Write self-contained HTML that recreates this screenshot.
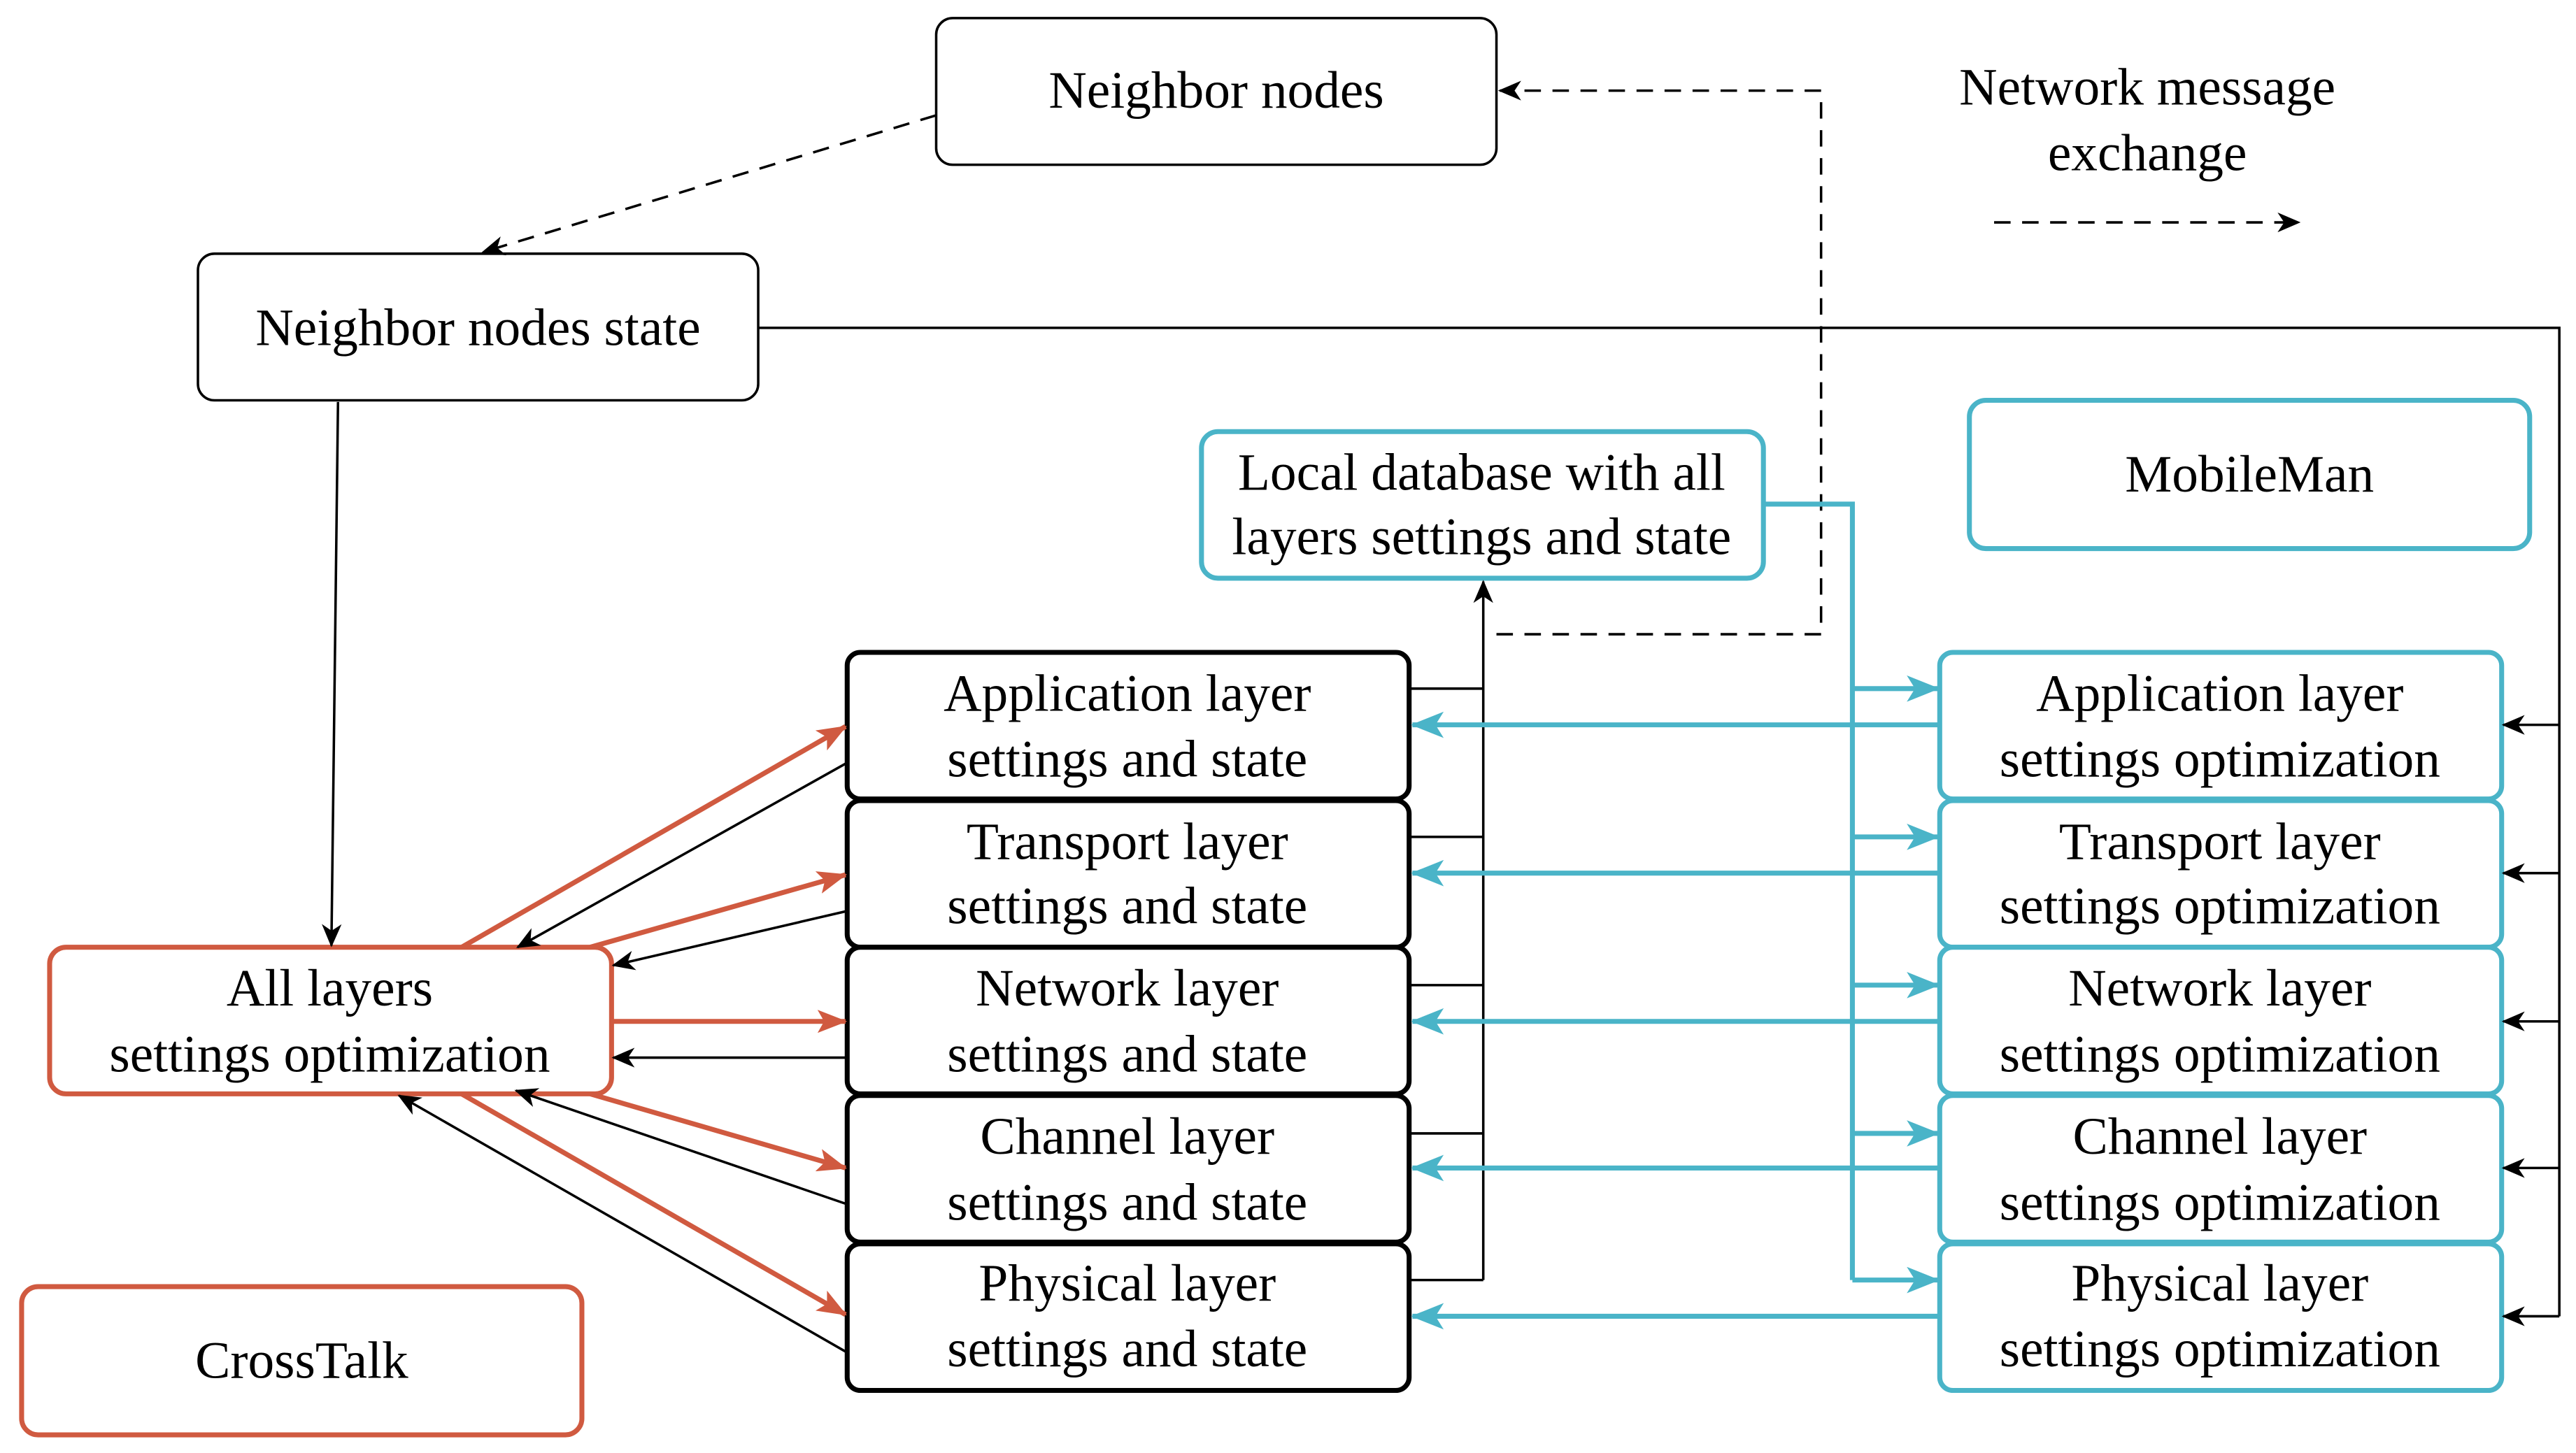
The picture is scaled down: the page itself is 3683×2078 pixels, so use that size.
<!DOCTYPE html>
<html><head><meta charset="utf-8"><style>html,body{margin:0;padding:0;background:#fff}svg{display:block}</style></head>
<body>
<svg width="3683" height="2078" viewBox="0 0 1563 882" xmlns="http://www.w3.org/2000/svg" font-family="Liberation Serif, serif" font-size="32" text-anchor="middle">
<defs>
<marker id="ak" markerWidth="14" markerHeight="12" refX="13" refY="6" orient="auto" markerUnits="userSpaceOnUse"><path d="M0,0 L14,6 L0,12 L4,6 z" fill="#000"/></marker>
<marker id="ac" markerWidth="20" markerHeight="16" refX="19" refY="8" orient="auto" markerUnits="userSpaceOnUse"><path d="M0,0 L20,8 L0,16 L5,8 z" fill="#4ab4c8"/></marker>
<marker id="ao" markerWidth="18" markerHeight="14" refX="17" refY="7" orient="auto" markerUnits="userSpaceOnUse"><path d="M0,0 L18,7 L0,14 L4,7 z" fill="#d05a40"/></marker>
</defs>
<g fill="#fff">
<rect x="568" y="11" width="340" height="89" rx="10" stroke="#000" stroke-width="1.5"/>
<rect x="120" y="154" width="340" height="89" rx="10" stroke="#000" stroke-width="1.5"/>
<rect x="729" y="262" width="341" height="89" rx="10" stroke="#4ab4c8" stroke-width="3"/>
<rect x="1195" y="243" width="340" height="90" rx="10" stroke="#4ab4c8" stroke-width="3"/>
<rect x="30" y="575" width="341" height="89" rx="10" stroke="#d05a40" stroke-width="3"/>
<rect x="13" y="781" width="340" height="90" rx="10" stroke="#d05a40" stroke-width="3"/>
<g stroke="#000" stroke-width="3">
<rect x="514" y="396" width="341" height="89" rx="8"/>
<rect x="514" y="486" width="341" height="89" rx="8"/>
<rect x="514" y="575" width="341" height="89" rx="8"/>
<rect x="514" y="665" width="341" height="89" rx="8"/>
<rect x="514" y="755" width="341" height="89" rx="8"/>
</g>
<g stroke="#4ab4c8" stroke-width="3">
<rect x="1177" y="396" width="341" height="89" rx="8"/>
<rect x="1177" y="486" width="341" height="89" rx="8"/>
<rect x="1177" y="575" width="341" height="89" rx="8"/>
<rect x="1177" y="665" width="341" height="89" rx="8"/>
<rect x="1177" y="755" width="341" height="89" rx="8"/>
</g>
</g>
<g fill="none" stroke="#000" stroke-width="1.5" stroke-dasharray="10,7">
<path d="M568,70 L293,153" marker-end="url(#ak)"/>
<path d="M908,385 H1105 V55 H910" marker-end="url(#ak)"/>
<path d="M1210,135 H1395" marker-end="url(#ak)"/>
</g>
<g fill="none" stroke="#000" stroke-width="1.5">
<path d="M205,244 L201,574" marker-end="url(#ak)"/>
<path d="M460,199 H1553 V799"/>
<path d="M1553,440 H1519" marker-end="url(#ak)"/>
<path d="M1553,530 H1519" marker-end="url(#ak)"/>
<path d="M1553,620 H1519" marker-end="url(#ak)"/>
<path d="M1553,709 H1519" marker-end="url(#ak)"/>
<path d="M1553,799 H1519" marker-end="url(#ak)"/>
<path d="M856,418 H900 M856,508 H900 M856,598 H900 M856,688 H900 M856,777 H900"/>
<path d="M900,777 V353" marker-end="url(#ak)"/>
<path d="M514,463 L314,575" marker-end="url(#ak)"/>
<path d="M514,553 L372,586" marker-end="url(#ak)"/>
<path d="M514,642 L372,642" marker-end="url(#ak)"/>
<path d="M514,731 L313,662" marker-end="url(#ak)"/>
<path d="M514,821 L242,665" marker-end="url(#ak)"/>
</g>
<g fill="none" stroke="#4ab4c8" stroke-width="3">
<path d="M1071,306 H1124 V777"/>
<path d="M1124,418 H1176" marker-end="url(#ac)"/>
<path d="M1124,508 H1176" marker-end="url(#ac)"/>
<path d="M1124,598 H1176" marker-end="url(#ac)"/>
<path d="M1124,688 H1176" marker-end="url(#ac)"/>
<path d="M1124,777 H1176" marker-end="url(#ac)"/>
<path d="M1177,440 H857" marker-end="url(#ac)"/>
<path d="M1177,530 H857" marker-end="url(#ac)"/>
<path d="M1177,620 H857" marker-end="url(#ac)"/>
<path d="M1177,709 H857" marker-end="url(#ac)"/>
<path d="M1177,799 H857" marker-end="url(#ac)"/>
</g>
<g fill="none" stroke="#d05a40" stroke-width="3">
<path d="M280,575 L513,441" marker-end="url(#ao)"/>
<path d="M358,575 L513,531" marker-end="url(#ao)"/>
<path d="M371,620 L513,620" marker-end="url(#ao)"/>
<path d="M358,664 L513,709" marker-end="url(#ao)"/>
<path d="M280,664 L513,798" marker-end="url(#ao)"/>
</g>
<g fill="#000" dominant-baseline="central">
<text x="738" y="55">Neighbor nodes</text>
<text x="290" y="199">Neighbor nodes state</text>
<text x="1303" y="53">Network message</text>
<text x="1303" y="93">exchange</text>
<text x="899" y="287">Local database with all</text>
<text x="899" y="326">layers settings and state</text>
<text x="1365" y="288">MobileMan</text>
<text x="200" y="600">All layers</text>
<text x="200" y="640">settings optimization</text>
<text x="183" y="826">CrossTalk</text>
<text x="684" y="421">Application layer</text><text x="684" y="461">settings and state</text>
<text x="684" y="511">Transport layer</text><text x="684" y="550">settings and state</text>
<text x="684" y="600">Network layer</text><text x="684" y="640">settings and state</text>
<text x="684" y="690">Channel layer</text><text x="684" y="730">settings and state</text>
<text x="684" y="779">Physical layer</text><text x="684" y="819">settings and state</text>
<text x="1347" y="421">Application layer</text><text x="1347" y="461">settings optimization</text>
<text x="1347" y="511">Transport layer</text><text x="1347" y="550">settings optimization</text>
<text x="1347" y="600">Network layer</text><text x="1347" y="640">settings optimization</text>
<text x="1347" y="690">Channel layer</text><text x="1347" y="730">settings optimization</text>
<text x="1347" y="779">Physical layer</text><text x="1347" y="819">settings optimization</text>
</g>
</svg>
</body></html>
